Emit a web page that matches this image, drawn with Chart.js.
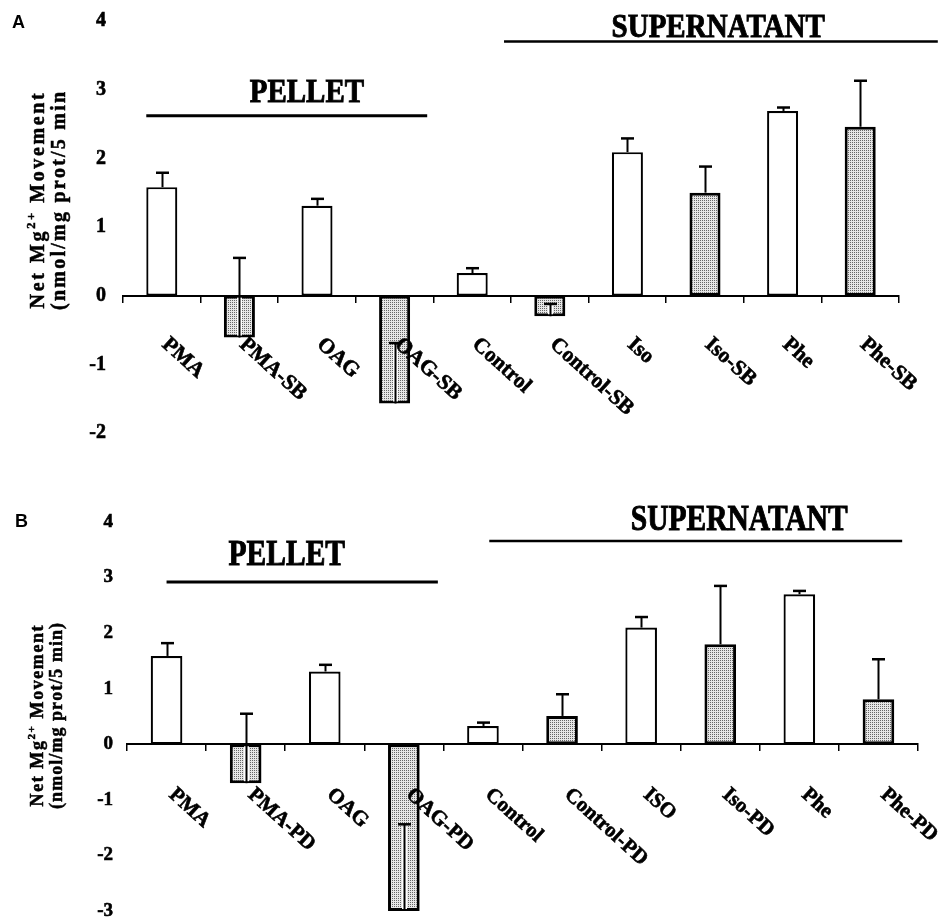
<!DOCTYPE html>
<html><head><meta charset="utf-8">
<script src="https://cdn.jsdelivr.net/npm/chart.js@4.4.1/dist/chart.umd.min.js"></script>
<style>
html,body{margin:0;padding:0;background:#fff;overflow:hidden;width:939px;height:918px;}
canvas{position:absolute;left:0;}
#cA{top:0;} #cB{top:460px;}
</style></head><body>
<canvas id="cA" width="939" height="460"></canvas>
<canvas id="cB" width="939" height="480"></canvas>
<script>
// ---------- DATA ----------
const categoriesA = ['PMA','PMA-SB','OAG','OAG-SB','Control','Control-SB','Iso','Iso-SB','Phe','Phe-SB'];
const valuesA     = [1.58, -0.61, 1.31, -1.57, 0.33, -0.30, 2.09, 1.50, 2.69, 2.46];
const errorsA     = [0.21,  1.16, 0.10,  0.88, 0.07,  0.18, 0.20, 0.38, 0.05, 0.67];
const yTicksA     = [-2, -1, 0, 1, 2, 3, 4];

const categoriesB = ['PMA','PMA-PD','OAG','OAG-PD','Control','Control-PD','ISO','Iso-PD','Phe','Phe-PD'];
const valuesB     = [1.59, -0.70, 1.31, -3.00, 0.33, 0.51, 2.10, 1.80, 2.70, 0.81];
const errorsB     = [0.23,  1.25, 0.12,  1.56, 0.06, 0.39, 0.19, 1.05, 0.06, 0.72];
const yTicksB     = [-3, -2, -1, 0, 1, 2, 3, 4];

const groupNames  = ['PELLET', 'SUPERNATANT'];
const titleLine1  = [['Net Mg', false], ['2+', true], [' Movement', false]];
const titleLine2A = '(nmol/mg prot/5 min';
const titleLine2B = '(nmol/mg prot/5 min)';

// ---------- HELPERS ----------
const SERIF = '"Liberation Serif", "Times New Roman", serif';

function stipple(ctx) {
  const c = document.createElement('canvas'); c.width = 2; c.height = 2;
  const x = c.getContext('2d');
  x.fillStyle = '#e6e6e6'; x.fillRect(0, 0, 2, 2);
  x.fillStyle = '#666666'; x.fillRect(0, 0, 1, 1);
  return ctx.createPattern(c, 'repeat');
}

function heavyText(ctx, t, x, y, w) {
  ctx.fillText(t, x, y);
  if (w) { ctx.lineWidth = w; ctx.strokeStyle = '#000'; ctx.strokeText(t, x, y); }
}

function drawSpaced(ctx, parts, L, fs) {
  const chars = [];
  parts.forEach(([t, sup]) => { for (const ch of t) chars.push([ch, sup]); });
  let W = 0;
  chars.forEach(([ch, sup]) => {
    ctx.font = `bold ${sup ? fs * 0.62 : fs}px ${SERIF}`;
    W += ctx.measureText(ch).width;
  });
  const sp = (L - W) / (chars.length - 1);
  let u = -L / 2;
  chars.forEach(([ch, sup]) => {
    ctx.font = `bold ${sup ? fs * 0.62 : fs}px ${SERIF}`;
    heavyText(ctx, ch, u, sup ? -fs * 0.47 : 0, 0.5);
    u += ctx.measureText(ch).width + sp;
  });
}

function panelPlugin(p) {
  return {
    id: 'panel' + p.letter,
    afterDatasetsDraw(chart) {
      const ctx = chart.ctx, xs = chart.scales.x, ys = chart.scales.y;
      const meta = chart.getDatasetMeta(0);
      const zy = ys.getPixelForValue(0);
      ctx.save();
      // error bars (upper error drawn from bar end)
      meta.data.forEach((el, i) => {
        const v = p.values[i], e = p.errors[i];
        const x = Math.round(el.x) + 0.5;
        const y0 = ys.getPixelForValue(v), y1 = ys.getPixelForValue(v + e);
        ctx.lineCap = 'butt';
        if (v < 0) {
          const yin = ys.getPixelForValue(Math.min(0, v + e));
          ctx.strokeStyle = '#fff'; ctx.lineWidth = 5;
          ctx.beginPath(); ctx.moveTo(x, y0 - 2); ctx.lineTo(x, yin + 2); ctx.stroke();
        }
        ctx.strokeStyle = '#000'; ctx.lineWidth = 2;
        ctx.beginPath(); ctx.moveTo(x, y0); ctx.lineTo(x, y1); ctx.stroke();
        ctx.lineWidth = 2.5;
        ctx.beginPath(); ctx.moveTo(x - 6.5, y1); ctx.lineTo(x + 6.5, y1); ctx.stroke();
      });
      // rotated category labels
      ctx.fillStyle = '#000';
      ctx.font = `bold ${p.catFont}px ${SERIF}`;
      ctx.textAlign = 'left'; ctx.textBaseline = 'top';
      p.categories.forEach((lab, i) => {
        ctx.save();
        ctx.translate(xs.getPixelForValue(i) + p.labDx, zy + p.labDy);
        ctx.rotate(42 * Math.PI / 180);
        heavyText(ctx, lab, 0, 0, 0.6);
        ctx.restore();
      });
      // group annotations
      p.groups.forEach((g, k) => {
        const xa = xs.getPixelForValue(g.from), xb = xs.getPixelForValue(g.to);
        const ly = ys.getPixelForValue(g.lineAt);
        ctx.strokeStyle = '#000'; ctx.lineWidth = g.lw;
        ctx.beginPath(); ctx.moveTo(xa, ly); ctx.lineTo(xb, ly); ctx.stroke();
        ctx.save();
        ctx.translate(xs.getPixelForValue(g.textAt), ys.getPixelForValue(g.baseAt));
        ctx.scale(1, 1.18);
        ctx.font = `bold ${p.groupFont}px ${SERIF}`;
        ctx.textAlign = 'center'; ctx.textBaseline = 'alphabetic';
        heavyText(ctx, groupNames[k], 0, 0, 0.8);
        ctx.restore();
      });
      // y-axis title (two lines, rotated)
      ctx.textAlign = 'left'; ctx.textBaseline = 'alphabetic';
      const cy = ys.getPixelForValue(p.titleCenter);
      ctx.save(); ctx.translate(p.title1X, cy); ctx.rotate(-Math.PI / 2);
      drawSpaced(ctx, titleLine1, p.title1L, p.titleFont);
      ctx.restore();
      ctx.save(); ctx.translate(p.title2X, cy); ctx.rotate(-Math.PI / 2);
      drawSpaced(ctx, [[p.title2, false]], p.title2L, p.titleFont);
      ctx.restore();
      // panel letter
      ctx.font = 'bold 18px "Liberation Sans", Arial, sans-serif';
      ctx.fillText(p.letter, p.letterX, p.letterY);
      ctx.restore();
    }
  };
}

function makeChart(id, p) {
  const canvas = document.getElementById(id);
  const ctx = canvas.getContext('2d');
  const pat = stipple(ctx);
  return new Chart(ctx, {
    type: 'bar',
    data: {
      labels: p.categories,
      datasets: [{
        data: p.values,
        backgroundColor: p.values.map((_, i) => i % 2 ? pat : '#ffffff'),
        borderColor: '#000',
        borderWidth: p.values.map((_, i) => i % 2 ? 3 : 2.2),
        borderSkipped: false,
        barPercentage: 0.4,
        categoryPercentage: 1
      }]
    },
    options: {
      responsive: false, animation: false, devicePixelRatio: 1, events: [],
      layout: { padding: p.padding },
      plugins: { legend: { display: false }, tooltip: { enabled: false }, title: { display: false } },
      scales: {
        x: {
          position: { y: 0 }, offset: true,
          ticks: { display: false },
          grid: { display: true, offset: true, drawOnChartArea: false, drawTicks: true, tickLength: 6, color: '#000', lineWidth: 1.5 },
          border: { display: true, color: '#000', width: 2 }
        },
        y: {
          min: p.yTicks[0], max: p.yTicks[p.yTicks.length - 1],
          afterBuildTicks: s => { s.ticks = p.yTicks.map(v => ({ value: v })); },
          ticks: { color: '#000', padding: 0, textStrokeColor: '#000', textStrokeWidth: 0.6,
                   font: { family: SERIF, weight: 'bold', size: p.tickFont } },
          grid: { display: false, drawTicks: true, tickLength: p.tickPad },
          border: { display: false },
          afterFit: s => { s.width = p.axisW; }
        }
      }
    },
    plugins: [panelPlugin(p)]
  });
}

makeChart('cA', {
  letter: 'A', letterX: 12, letterY: 28,
  categories: categoriesA, values: valuesA, errors: errorsA, yTicks: yTicksA,
  padding: { top: 21, bottom: 27, left: 0, right: 40 }, axisW: 123,
  tickPad: 17, tickFont: 20, catFont: 21.5, labDx: 10, labDy: 38, groupFont: 29,
  groups: [
    { from: -0.2, to: 3.42, lineAt: 2.62, textAt: 1.87, baseAt: 2.82, lw: 3 },
    { from: 4.41, to: 10.0, lineAt: 3.70, textAt: 7.17, baseAt: 3.77, lw: 2.5 }
  ],
  titleFont: 20, titleCenter: 1.38, title1X: 44, title1L: 215, title2X: 65, title2L: 218, title2: titleLine2A
});

makeChart('cB', {
  letter: 'B', letterX: 15, letterY: 67,
  categories: categoriesB, values: valuesB, errors: errorsB, yTicks: yTicksB,
  padding: { top: 62, bottom: 29, left: 0, right: 21 }, axisW: 127,
  tickPad: 14, tickFont: 19, catFont: 21, labDx: 12, labDy: 40, groupFont: 29.5,
  groups: [
    { from: 0.0, to: 3.43, lineAt: 2.92, textAt: 1.52, baseAt: 3.22, lw: 3 },
    { from: 4.08, to: 9.30, lineAt: 3.66, textAt: 7.24, baseAt: 3.85, lw: 2.5 }
  ],
  titleFont: 18, titleCenter: 0.51, title1X: 43, title1L: 181, title2X: 62, title2L: 186, title2: titleLine2B
});
</script>
</body></html>
